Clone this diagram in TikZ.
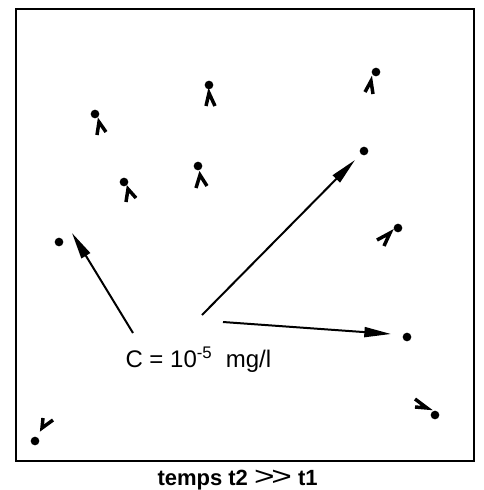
\documentclass[tikz,border=0pt]{standalone}
\usepackage{fontspec}
\setmainfont{Liberation Sans}
\usetikzlibrary{arrows.meta}

\tikzset{every picture/.style={line width=0.75pt}}
\tikzset{
  particle/.style={circle,fill=black,inner sep=0pt,minimum size=6.5pt},
  trail/.style={line width=2.6pt,line join=miter},
  drift/.style={line width=1.5,-{Triangle[length=20pt,width=7.5pt]}}
}

\begin{document}
\begin{tikzpicture}[x=0.75pt,y=0.75pt,yscale=-1,xscale=1]
\path[use as bounding box] (0,0) rectangle (484,490);

%Shape: Rectangle
\draw [line width=1.8] (16,9) rectangle (474,461);

%Shape: Circle
\node [particle] (p1) at (95,114) {};
\node [particle] (p2) at (209,85) {};
\node [particle] (p3) at (376,72) {};
\node [particle] (p4) at (364,151) {};
\node [particle] (p5) at (124,182) {};
\node [particle] (p6) at (198,166) {};
\node [particle] (p7) at (398,228) {};
\node [particle] (p8) at (59,242) {};
\node [particle] (p9) at (407,337) {};
\node [particle] (p10) at (435,415) {};
\node [particle] (p11) at (35,441) {};

%Straight Lines
\draw [trail] (97,135) -- (99,122) -- (106,132) ;
\draw [trail] (206,106) -- (209,93) -- (215,106) ;
\draw [trail] (365,92) -- (371,81) -- (373,94) ;
\draw [trail] (126,202) -- (128,189) -- (136,198) ;
\draw [trail] (196,188) -- (200,175) -- (207,186) ;
\draw [trail] (377,240) -- (390,233) -- (384,246) ;
\draw [trail] (415,399) -- (427,408) -- (415,407) ;
\draw [trail] (43,418) -- (42,428) -- (53,420) ;

% Text Node
\node (conc) at (125,367) [anchor=base west,inner sep=0pt,font=\fontsize{18}{18}\selectfont] {C = 10\textsuperscript{-5}\ \ mg/l};
% Text Node
\node (time) at (157,485) [anchor=base west,inner sep=0pt,font=\bfseries\fontsize{16.5}{16.5}\selectfont] {temps t2 {\mdseries\scalebox{1.6}[1.2]{>\kern-1.5pt>}} t1};

\coordinate (a1) at (133,333);
\coordinate (b1) at (202,315);
\coordinate (c1) at (223,322);
\coordinate (a2) at (72,233);
\coordinate (b2) at (355,160);
\coordinate (c2) at (391,334);

%Straight Lines
\draw [drift] (a1) -- (a2) ;
\draw [drift] (b1) -- (b2) ;
\draw [drift] (c1) -- (c2) ;

\end{tikzpicture}
\end{document}
